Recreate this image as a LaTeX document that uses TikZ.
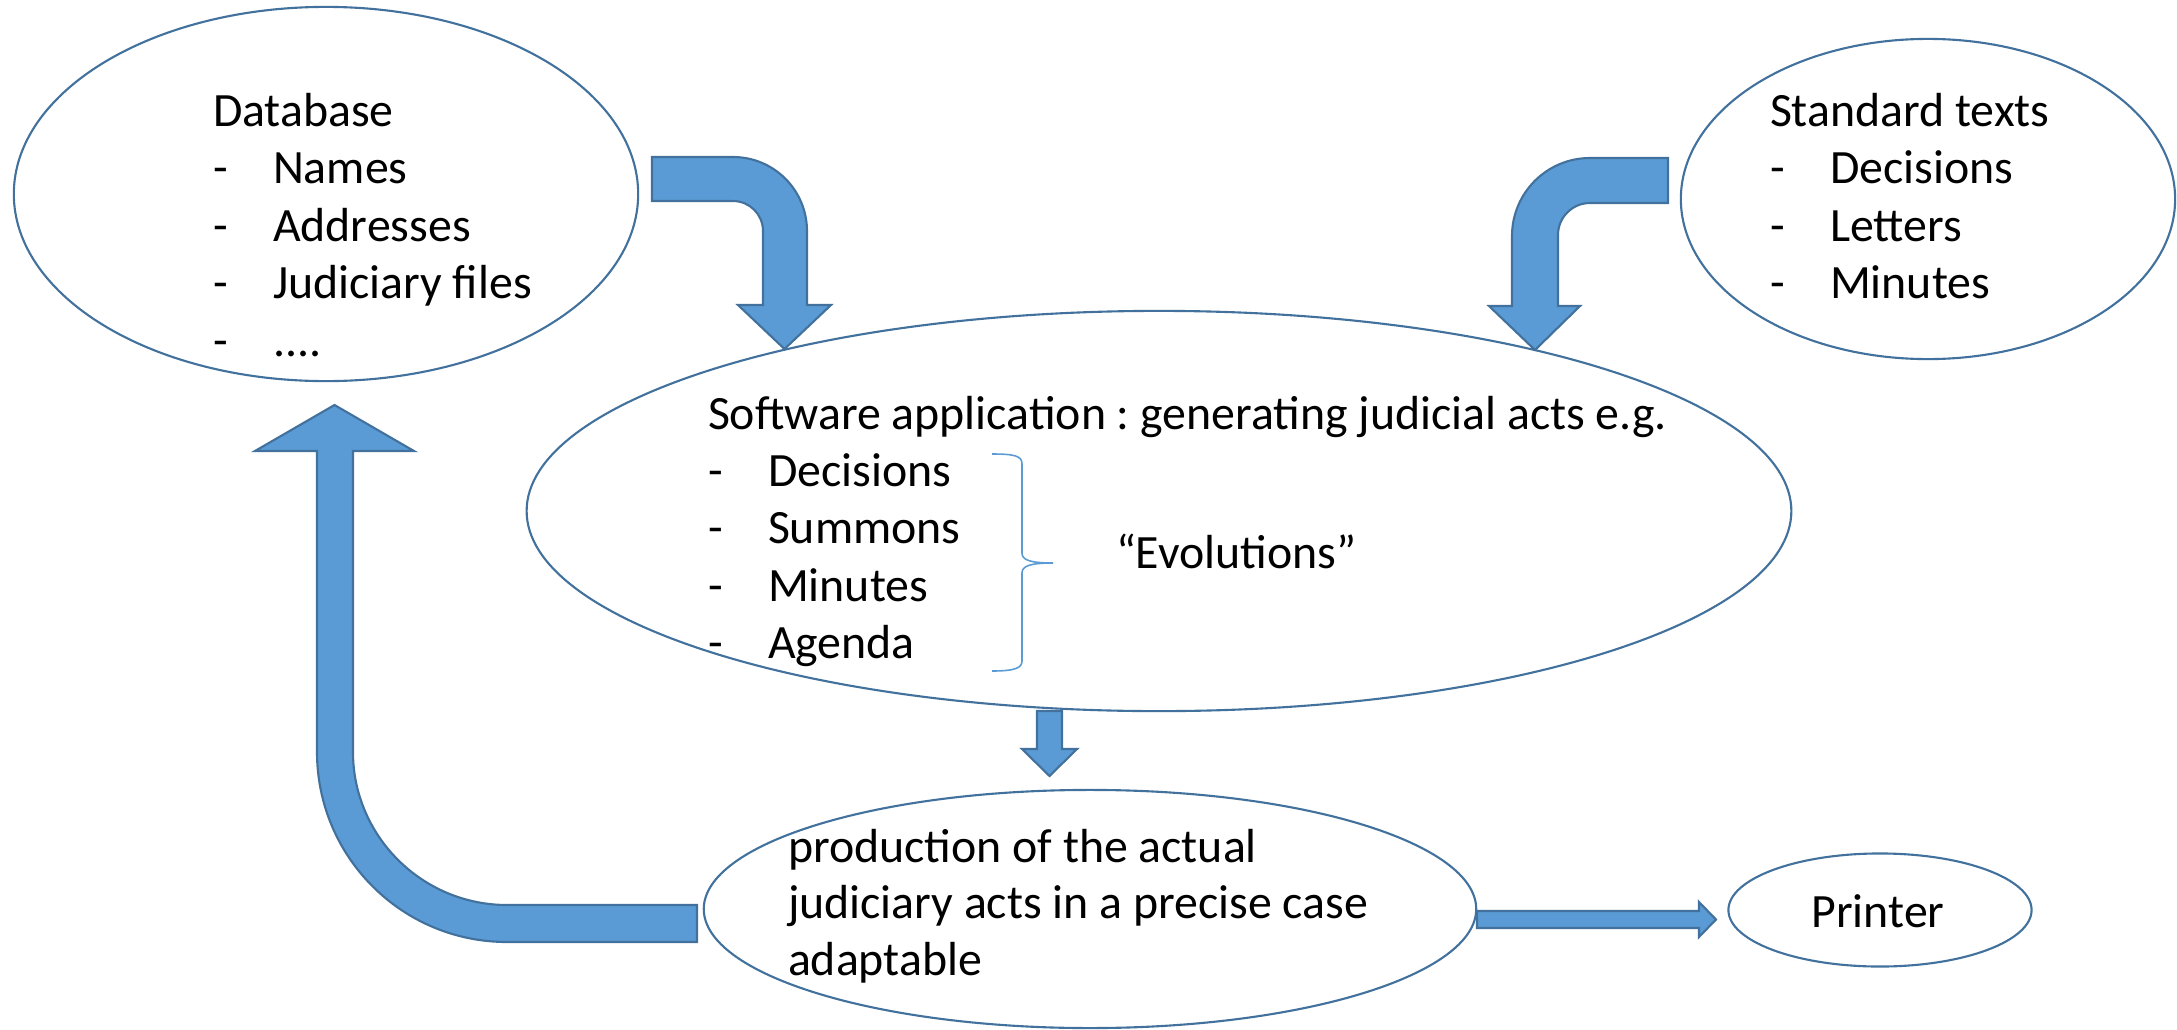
\documentclass[tikz,border=0pt]{standalone}
\usepackage{fontspec}
\setmainfont{Carlito}
\usetikzlibrary{shapes.geometric}
\definecolor{arrfill}{HTML}{5B9BD5}
\definecolor{arrline}{HTML}{41719C}
\newcommand{\itm}[1]{\makebox[0.6cm][l]{-}#1}
\frenchspacing
\begin{document}
\begin{tikzpicture}[x=0.01cm,y=-0.01cm,
  oval/.style={ellipse, draw=arrline, line width=0.6pt, inner sep=0pt, outer sep=0pt},
  txt/.style={anchor=base west, inner sep=0pt, outer sep=0pt, font=\fontsize{13.6pt}{16pt}\selectfont},
  blockarrow/.style={fill=arrfill, draw=arrline, line width=0.6pt, line join=miter},
  bracestyle/.style={draw=arrfill, line width=0.45pt}]
\useasboundingbox (0,0) rectangle (2177,1030);

% ellipses
\node[oval, minimum width=6.24cm, minimum height=3.74cm] (db) at (326,194) {};
\node[oval, minimum width=4.94cm, minimum height=3.20cm] (std) at (1928,199) {};
\node[oval, minimum width=12.64cm, minimum height=4.00cm] (sw) at (1159,511) {};
\node[oval, minimum width=7.72cm, minimum height=2.38cm] (prod) at (1090,909) {};
\node[oval, minimum width=3.03cm, minimum height=1.13cm] (prn) at (1880,910) {};

% texts: database
\node[txt] (dbt) at (213,126) {Database};
\node[txt] (db1) at (213,183) {\itm{Names}};
\node[txt] (db2) at (213,241) {\itm{Addresses}};
\node[txt] (db3) at (213,298) {\itm{Judiciary files}};
\node[txt] (db4) at (213,356) {\itm{....}};

% texts: standard texts
\node[txt] (stt) at (1770,126) {Standard texts};
\node[txt] (st1) at (1770,183) {\itm{Decisions}};
\node[txt] (st2) at (1770,241) {\itm{Letters}};
\node[txt] (st3) at (1770,298) {\itm{Minutes}};

% texts: software
\node[txt] (swt) at (708,429) {Software application : generating judicial acts e.g.};
\node[txt] (sw1) at (708,486) {\itm{Decisions}};
\node[txt] (sw2) at (708,543) {\itm{Summons}};
\node[txt] (sw3) at (708,601) {\itm{Minutes}};
\node[txt] (sw4) at (708,658) {\itm{Agenda}};
\node[txt] (evo) at (1116,568) {“Evolutions”};

% brace
\draw[bracestyle] (992,454) .. controls (1015,454) and (1022,456) .. (1022,464)
  -- (1022,553) .. controls (1022,560) and (1030,563) .. (1053,563)
  .. controls (1030,563) and (1022,566) .. (1022,573)
  -- (1022,661) .. controls (1022,668) and (1015,671) .. (992,671);

% texts: production
\node[txt] (pr1) at (788,862) {production of the actual};
\node[txt] (pr2) at (788,918) {judiciary acts in a precise case};
\node[txt] (pr3) at (788,975) {adaptable};

% printer
\node[txt, anchor=base] (prt) at (1878,927) {Printer};

% block arrows
% database -> software
\draw[blockarrow] (652,157) -- (733,157) .. controls (773.9,157) and (807,190.1) .. (807,231)
  -- (807,305) -- (831,305) -- (784.5,349) -- (738,305) -- (763,305) -- (763,231)
  .. controls (763,214.4) and (749.6,201) .. (733,201) -- (652,201) -- cycle;
% standard texts -> software
\draw[blockarrow] (1668,158) -- (1590,158) .. controls (1546.9,158) and (1512,192.9) .. (1512,236)
  -- (1512,306) -- (1489,306) -- (1535,350) -- (1580,306) -- (1558,306) -- (1558,235)
  .. controls (1558,217.3) and (1572.3,203) .. (1590,203) -- (1668,203) -- cycle;
% software -> production
\draw[blockarrow] (1037,711) -- (1062,711) -- (1062,749) -- (1077,749) -- (1049.5,776)
  -- (1022,749) -- (1037,749) -- cycle;
% production -> database
\draw[blockarrow] (697,905) -- (507,905) .. controls (422,905) and (353,836) .. (353,752)
  -- (353,451) -- (414,451) -- (334.5,405) -- (255,451) -- (317,451) -- (317,752)
  .. controls (317,857) and (402,942) .. (507,942) -- (697,942) -- cycle;
% production -> printer
\draw[blockarrow] (1477,911) -- (1699,911) -- (1699,902) -- (1716,919.5) -- (1699,937)
  -- (1699,928) -- (1477,928) -- cycle;
\end{tikzpicture}
\end{document}
